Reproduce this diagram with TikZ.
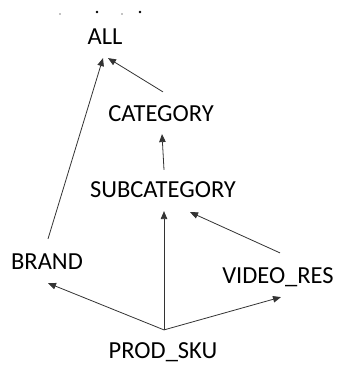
\documentclass[tikz,border=0pt]{standalone}
\usepackage{fontspec}
\setmainfont{Carlito}
\usetikzlibrary{arrows.meta}
\begin{document}
\begin{tikzpicture}[x=1pt,y=-1pt,
  lbl/.style={font=\fontsize{24.5}{29}\selectfont, inner sep=0pt, text height=15.8pt, text depth=0pt},
  arr/.style={draw=black!80, line width=0.8pt, -{Triangle[length=8pt,width=6.5pt]}},
  speck/.style={fill=black}]
\useasboundingbox (0,0) rectangle (337,369);
\fill[speck] (60,14) circle (0.6);
\fill[speck] (97,12) circle (1.3);
\fill[speck] (122,14) circle (0.6);
\fill[speck] (140,12) circle (1.3);
\node[lbl] (all) at (105,37) {ALL};
\node[lbl] (cat) at (161,114) {CATEGORY};
\node[lbl] (sub) at (163,190) {SUBCATEGORY};
\node[lbl] (brand) at (47,262) {BRAND};
\node[lbl] (video) at (278,276) {VIDEO\_RES};
\node[lbl] (sku) at (163,351) {PROD\_SKU};
\draw[arr] ([xshift=2pt,yshift=14pt]cat.north) -- ([xshift=3pt,yshift=-13pt]all.south);
\draw[arr] ([xshift=1pt,yshift=15pt]brand.north) -- ([xshift=-2pt,yshift=-13pt]all.south);
\draw[arr] ([xshift=1pt,yshift=12pt]sub.north) -- ([xshift=1pt,yshift=-12pt]cat.south);
\draw[arr] ([xshift=1pt,yshift=13pt]sku.north) -- ([xshift=1pt,yshift=-13pt]sub.south);
\draw[arr] ([xshift=2pt,yshift=15pt]video.north) -- ([xshift=27pt,yshift=-14pt]sub.south);
\draw[arr] ([xshift=1pt,yshift=13pt]sku.north) -- ([xshift=1pt,yshift=-13pt]brand.south);
\draw[arr] ([xshift=1pt,yshift=13pt]sku.north) -- ([xshift=3pt,yshift=-13pt]video.south);
\end{tikzpicture}
\end{document}
